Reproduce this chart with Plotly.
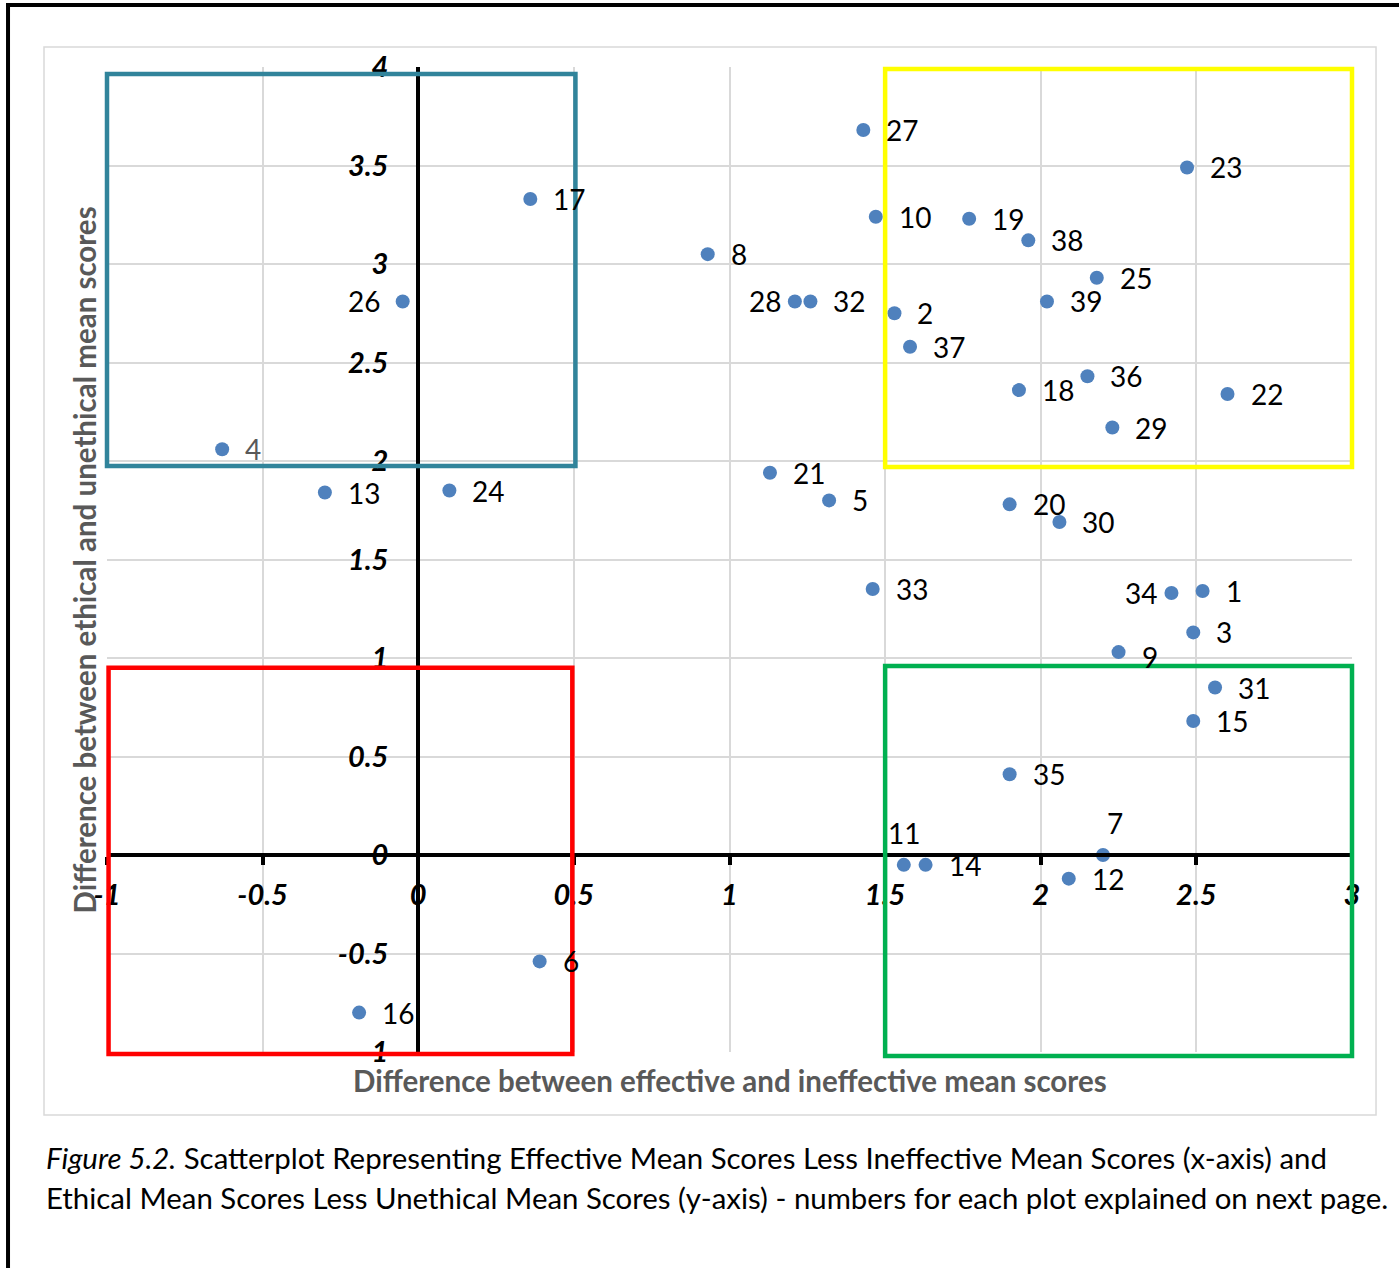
import plotly.graph_objects as go

# ---- data ----
point_ids = ["27", "23", "17", "10", "19", "38", "8", "25", "26", "28", "32", "39", "2", "37",
             "36", "18", "22", "29", "4", "21", "13", "24", "5", "20", "30", "33", "34", "1",
             "3", "9", "31", "15", "35", "11", "14", "7", "12", "6", "16"]
x_effective = [1.43, 2.47, 0.36, 1.47, 1.77, 1.96, 0.93, 2.18, -0.05, 1.21, 1.26, 2.02, 1.53, 1.58,
               2.15, 1.93, 2.60, 2.23, -0.63, 1.13, -0.30, 0.10, 1.32, 1.90, 2.06, 1.46, 2.42, 2.52,
               2.49, 2.25, 2.56, 2.49, 1.90, 1.56, 1.63, 2.20, 2.09, 0.39, -0.19]
y_ethical = [3.68, 3.49, 3.33, 3.24, 3.23, 3.12, 3.05, 2.93, 2.81, 2.81, 2.81, 2.81, 2.75, 2.58,
             2.43, 2.36, 2.34, 2.17, 2.06, 1.94, 1.84, 1.85, 1.80, 1.78, 1.69, 1.35, 1.33, 1.34,
             1.13, 1.03, 0.85, 0.68, 0.41, -0.05, -0.05, 0.00, -0.12, -0.54, -0.80]
tick_values = [-1, -0.5, 0, 0.5, 1, 1.5, 2, 2.5, 3, 3.5, 4]
tick_labels = ["-1", "-0.5", "0", "0.5", "1", "1.5", "2", "2.5", "3", "3.5", "4"]

# quadrant boxes in data units: (x0, x1, y0, y1, colour)
boxes = [
    (-1.0, 0.505, 1.975, 3.965, "#31849B"),
    (1.5, 3.0, 1.97, 3.99, "#FFFF00"),
    (-0.995, 0.495, -1.01, 0.95, "#FF0000"),
    (1.5, 3.0, -1.02, 0.96, "#00B050"),
]

X_RANGE = [-1, 3]
Y_RANGE = [-1, 4]

caption_line1 = "<i>Figure 5.2.</i> Scatterplot Representing Effective Mean Scores Less Ineffective Mean Scores (x-axis) and"
caption_line2 = "Ethical Mean Scores Less Unethical Mean Scores (y-axis) - numbers for each plot explained on next page."

FONT = "Lato, 'Open Sans', sans-serif"


def to_paper_x(v):
    return (v - X_RANGE[0]) / (X_RANGE[1] - X_RANGE[0])


def to_paper_y(v):
    return (v - Y_RANGE[0]) / (Y_RANGE[1] - Y_RANGE[0])


fig = go.Figure()
fig.add_trace(go.Scatter(
    x=x_effective, y=y_ethical, mode="markers",
    marker=dict(size=14, color="#4F81BD"),
    hoverinfo="text", text=point_ids, showlegend=False,
))

# data labels
left_labels = {"26": -21, "28": -12, "34": -12}
top_labels = {"11", "7"}
for pid, xv, yv in zip(point_ids, x_effective, y_ethical):
    if pid in left_labels:
        xa, xs, ys = "right", left_labels[pid], 0
    elif pid in top_labels:
        xa, xs, ys = "center", (12 if pid == "7" else 0), 32
    else:
        xa, xs, ys = "left", 21, 0
    if pid == "9":
        ys = -5
    fig.add_annotation(x=xv, y=yv, text=pid, showarrow=False, xanchor=xa, yanchor="middle",
                       xshift=xs, yshift=ys,
                       font=dict(family=FONT, size=28, color="#595959" if pid == "4" else "#000000"))

for x0, x1, y0, y1, col in boxes:
    fig.add_shape(type="rect", xref="paper", yref="paper",
                  x0=to_paper_x(x0), x1=to_paper_x(x1), y0=to_paper_y(y0), y1=to_paper_y(y1),
                  line=dict(color=col, width=4.5), fillcolor="rgba(0,0,0,0)", layer="above")

# chart-area border (light gray) and page frame (black)
fig.add_shape(type="rect", xref="paper", yref="paper", x0=-0.0506, x1=1.0193, y0=-0.064, y1=1.0203,
              line=dict(color="#D9D9D9", width=1.5), layer="below")
fig.add_shape(type="line", xref="paper", yref="paper", x0=-0.0795, x1=-0.0795, y0=-0.25, y1=1.065,
              line=dict(color="#000000", width=4))
fig.add_shape(type="line", xref="paper", yref="paper", x0=-0.081, x1=1.1, y0=1.063, y1=1.063,
              line=dict(color="#000000", width=4))

# axis titles
fig.add_annotation(xref="paper", yref="paper", x=0.5, y=-0.0285, yanchor="middle", showarrow=False,
                   text="<b>Difference between effective and ineffective mean scores</b>",
                   font=dict(family=FONT, size=29.5, color="#595959"))
fig.add_annotation(xref="paper", yref="paper", x=-0.0177, y=0.5, xanchor="center", showarrow=False,
                   textangle=-90,
                   text="<b>Difference between ethical and unethical mean scores</b>",
                   font=dict(family=FONT, size=29.5, color="#595959"))

# caption
fig.add_annotation(xref="paper", yref="paper", x=-0.0506, y=-0.107, xanchor="left", yanchor="middle",
                   showarrow=False, text=caption_line1, align="left",
                   font=dict(family=FONT, size=29.4, color="#000000"))
fig.add_annotation(xref="paper", yref="paper", x=-0.0506, y=-0.1475, xanchor="left", yanchor="middle",
                   showarrow=False, text=caption_line2, align="left",
                   font=dict(family=FONT, size=29.4, color="#000000"))

tickfont = dict(family=FONT, size=29, color="#000000", weight="bold", style="italic")

fig.update_xaxes(range=X_RANGE, tickvals=[t for t in tick_values if t <= 3],
                 ticktext=[l for t, l in zip(tick_values, tick_labels) if t <= 3],
                 showgrid=True, gridcolor="#D9D9D9", gridwidth=1.5, zeroline=False,
                 anchor="free", position=to_paper_y(0), showline=True, linecolor="#000000", linewidth=4,
                 ticks="outside", ticklen=8, tickwidth=4, tickcolor="#000000",
                 tickfont=tickfont, ticklabelstandoff=5)
fig.update_yaxes(range=Y_RANGE, tickvals=[t for t in tick_values if t >= -1],
                 ticktext=[l for t, l in zip(tick_values, tick_labels) if t >= -1],
                 showgrid=True, gridcolor="#D9D9D9", gridwidth=1.5, zeroline=False,
                 anchor="free", position=to_paper_x(0), showline=True, linecolor="#000000", linewidth=4,
                 ticks="", tickfont=tickfont, ticklabelstandoff=22)

fig.update_layout(
    width=1399, height=1268,
    margin=dict(l=107, r=47, t=67, b=216),
    paper_bgcolor="#FFFFFF", plot_bgcolor="#FFFFFF",
    showlegend=False,
)

fig.write_html("out.html", config={"displayModeBar": False},
               post_script="document.body.style.margin='0';")
